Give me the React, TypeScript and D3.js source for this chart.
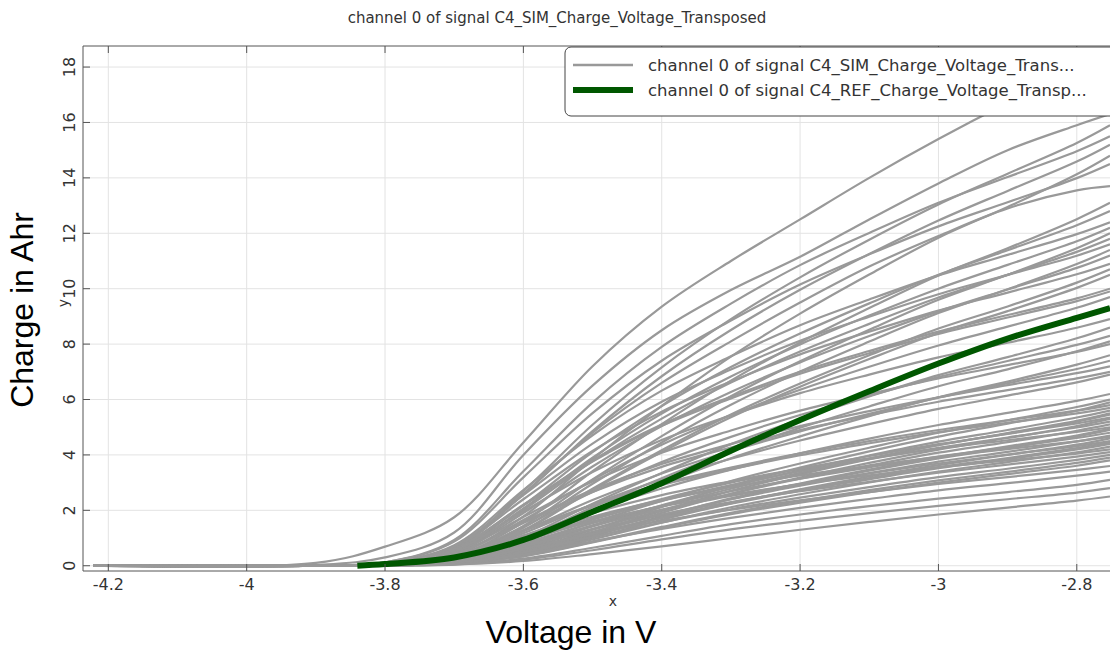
import React from "react";
import * as d3 from "d3";

// Voltage sampling points shared by every simulated discharge curve (V)
const VOLTAGE_GRID = [-4.222, -3.9, -3.8, -3.7, -3.6, -3.5, -3.4, -3.3, -3.2, -3.1, -3.0, -2.9, -2.8, -2.752];

// Simulated charge curves (Ahr) at VOLTAGE_GRID, grouped by capacity band
const SIM_TOP = [
  [0, 0.1, 0.69, 1.75, 4.45, 7.2, 9.35, 11.0, 12.5, 14.0, 15.4, 16.7, 17.9, 18.5],
  [0, 0.03, 0.3, 1.2, 4.0, 6.5, 8.5, 9.95, 11.15, 12.5, 13.8, 15.0, 15.9, 16.3],
];
const SIM_UPPER = [
  [0, 0, 0.08, 0.64, 2.7, 5.09, 7.16, 8.9, 10.41, 11.77, 13.04, 14.15, 15.26, 15.9],
  [0, 0, 0.12, 0.93, 3.41, 5.89, 7.9, 9.46, 10.85, 12.01, 13.1, 14.03, 14.96, 15.5],
  [0, 0, 0.08, 0.61, 2.58, 4.86, 6.84, 8.51, 9.96, 11.25, 12.46, 13.53, 14.59, 15.2],
  [0, 0, 0.04, 0.37, 1.78, 3.85, 5.77, 7.55, 9.1, 10.51, 11.84, 12.95, 14.13, 14.8],
  [0, 0, 0.12, 0.87, 3.19, 5.51, 7.4, 8.85, 10.15, 11.24, 12.25, 13.12, 13.99, 14.5],
  [0, 0, 0.08, 0.6, 2.6, 4.8, 6.6, 8.1, 9.5, 10.8, 11.9, 12.9, 13.55, 13.7],
];
const SIM_MID = [
  [0, 0, 0.04, 0.33, 1.57, 3.41, 5.11, 6.68, 8.06, 9.3, 10.48, 11.46, 12.51, 13.1],
  [0, 0, 0.06, 0.51, 2.18, 4.1, 5.76, 7.17, 8.38, 9.47, 10.5, 11.39, 12.29, 12.8],
  [0, 0, 0.1, 0.74, 2.73, 4.71, 6.32, 7.56, 8.68, 9.61, 10.48, 11.22, 11.97, 12.4],
  [0, 0, 0.06, 0.49, 2.07, 3.9, 5.49, 6.83, 7.99, 9.03, 10.0, 10.86, 11.71, 12.2],
  [0, 0, 0.04, 0.3, 1.44, 3.12, 4.68, 6.12, 7.38, 8.52, 9.6, 10.5, 11.46, 12.0],
  [0, 0, 0.06, 0.47, 2.01, 3.78, 5.31, 6.61, 7.73, 8.73, 9.68, 10.5, 11.33, 11.8],
  [0, 0, 0.09, 0.7, 2.55, 4.41, 5.92, 7.08, 8.12, 8.99, 9.8, 10.5, 11.19, 11.6],
  [0, 0, 0.03, 0.29, 1.37, 2.96, 4.45, 5.81, 7.01, 8.09, 9.12, 9.98, 10.89, 11.4],
  [0, 0, 0.06, 0.45, 1.9, 3.58, 5.04, 6.27, 7.34, 8.29, 9.18, 9.97, 10.75, 11.2],
  [0, 0, 0.09, 0.65, 2.4, 4.14, 5.56, 6.65, 7.63, 8.45, 9.21, 9.86, 10.52, 10.9],
  [0, 0, 0.03, 0.27, 1.28, 2.78, 4.17, 5.46, 6.58, 7.6, 8.56, 9.36, 10.22, 10.7],
  [0, 0, 0.03, 0.26, 1.26, 2.73, 4.1, 5.36, 6.46, 7.46, 8.4, 9.19, 10.03, 10.5],
  [0, 0, 0.08, 0.6, 2.2, 3.8, 5.1, 6.1, 7.0, 7.75, 8.45, 9.05, 9.65, 10.0],
  [0, 0, 0.08, 0.59, 2.18, 3.76, 5.05, 6.04, 6.93, 7.67, 8.37, 8.96, 9.55, 9.9],
  [0, 0, 0.05, 0.39, 1.65, 3.1, 4.37, 5.43, 6.35, 7.18, 7.95, 8.63, 9.31, 9.7],
];
const SIM_MIDLOW = [
  [0, 0, 0.07, 0.53, 1.96, 3.38, 4.54, 5.43, 6.23, 6.9, 7.52, 8.05, 8.59, 8.9],
  [0, 0, 0.03, 0.22, 1.03, 2.24, 3.35, 4.39, 5.29, 6.11, 6.88, 7.53, 8.21, 8.6],
  [0, 0, 0.04, 0.33, 1.41, 2.66, 3.74, 4.65, 5.44, 6.14, 6.81, 7.39, 7.97, 8.3],
  [0, 0, 0.02, 0.2, 0.97, 2.11, 3.16, 4.13, 4.98, 5.75, 6.48, 7.09, 7.74, 8.1],
  [0, 0, 0.06, 0.48, 1.76, 3.04, 4.08, 4.88, 5.6, 6.2, 6.76, 7.24, 7.72, 8.0],
  [0, 0, 0.02, 0.19, 0.91, 1.98, 2.96, 3.88, 4.67, 5.4, 6.08, 6.65, 7.26, 7.6],
  [0, 0, 0.04, 0.3, 1.26, 2.37, 3.33, 4.14, 4.85, 5.48, 6.07, 6.59, 7.1, 7.4],
  [0, 0, 0.06, 0.43, 1.58, 2.74, 3.67, 4.39, 5.04, 5.58, 6.08, 6.52, 6.95, 7.2],
  [0, 0, 0.06, 0.42, 1.54, 2.66, 3.57, 4.27, 4.9, 5.43, 5.92, 6.34, 6.76, 7.0],
  [0, 0, 0.03, 0.28, 1.17, 2.21, 3.11, 3.86, 4.52, 5.11, 5.66, 6.14, 6.62, 6.9],
];
const SIM_LOWER = [
  [0, 0, 0.03, 0.25, 1.05, 1.98, 2.79, 3.47, 4.06, 4.59, 5.08, 5.52, 5.95, 6.2],
  [0, 0, 0.02, 0.15, 0.72, 1.56, 2.34, 3.06, 3.69, 4.26, 4.8, 5.25, 5.73, 6.0],
  [0, 0, 0.01, 0.12, 0.53, 1.3, 2.12, 2.89, 3.54, 4.13, 4.66, 5.13, 5.6, 5.9],
  [0, 0, 0.05, 0.35, 1.28, 2.2, 2.96, 3.54, 4.06, 4.5, 4.9, 5.25, 5.6, 5.8],
  [0, 0, 0.05, 0.34, 1.25, 2.17, 2.91, 3.48, 3.99, 4.42, 4.82, 5.16, 5.5, 5.7],
  [0, 0, 0.02, 0.14, 0.67, 1.46, 2.18, 2.86, 3.44, 3.98, 4.48, 4.9, 5.35, 5.6],
  [0, 0, 0.01, 0.11, 0.5, 1.21, 1.98, 2.7, 3.3, 3.85, 4.35, 4.79, 5.23, 5.5],
  [0, 0, 0.02, 0.14, 0.65, 1.42, 2.13, 2.78, 3.35, 3.87, 4.36, 4.77, 5.2, 5.45],
  [0, 0, 0.03, 0.21, 0.91, 1.71, 2.41, 3.0, 3.5, 3.96, 4.39, 4.76, 5.14, 5.35],
  [0, 0, 0.01, 0.11, 0.48, 1.17, 1.91, 2.6, 3.18, 3.71, 4.19, 4.61, 5.04, 5.3],
  [0, 0, 0.03, 0.21, 0.88, 1.66, 2.34, 2.91, 3.41, 3.85, 4.26, 4.63, 4.99, 5.2],
  [0, 0, 0.02, 0.13, 0.61, 1.33, 1.99, 2.6, 3.14, 3.62, 4.08, 4.46, 4.87, 5.1],
  [0, 0, 0.04, 0.3, 1.1, 1.9, 2.55, 3.05, 3.5, 3.88, 4.23, 4.53, 4.83, 5.0],
  [0, 0, 0.01, 0.1, 0.45, 1.09, 1.78, 2.43, 2.97, 3.47, 3.91, 4.31, 4.7, 4.95],
  [0, 0, 0.01, 0.1, 0.44, 1.08, 1.76, 2.4, 2.94, 3.43, 3.87, 4.26, 4.66, 4.9],
  [0, 0, 0.02, 0.19, 0.82, 1.54, 2.16, 2.69, 3.14, 3.55, 3.94, 4.27, 4.61, 4.8],
  [0, 0, 0.01, 0.12, 0.56, 1.22, 1.83, 2.4, 2.89, 3.34, 3.76, 4.11, 4.49, 4.7],
  [0, 0, 0.04, 0.28, 1.02, 1.77, 2.37, 2.84, 3.26, 3.6, 3.93, 4.21, 4.49, 4.65],
  [0, 0, 0.01, 0.09, 0.41, 1.01, 1.66, 2.25, 2.76, 3.22, 3.63, 4.0, 4.37, 4.6],
  [0, 0, 0.02, 0.18, 0.77, 1.44, 2.03, 2.52, 2.95, 3.33, 3.69, 4.01, 4.32, 4.5],
  [0, 0, 0.01, 0.11, 0.53, 1.16, 1.74, 2.27, 2.74, 3.16, 3.56, 3.89, 4.25, 4.45],
  [0, 0, 0.01, 0.11, 0.53, 1.14, 1.72, 2.24, 2.71, 3.12, 3.52, 3.85, 4.2, 4.4],
  [0, 0, 0.01, 0.09, 0.39, 0.95, 1.55, 2.11, 2.58, 3.01, 3.4, 3.74, 4.09, 4.3],
  [0, 0, 0.03, 0.25, 0.92, 1.6, 2.14, 2.56, 2.94, 3.26, 3.55, 3.8, 4.05, 4.2],
  [0, 0, 0.02, 0.16, 0.7, 1.31, 1.85, 2.3, 2.69, 3.03, 3.36, 3.65, 3.94, 4.1],
  [0, 0, 0.01, 0.1, 0.48, 1.04, 1.56, 2.04, 2.46, 2.84, 3.2, 3.5, 3.82, 4.0],
  [0, 0, 0.01, 0.08, 0.35, 0.86, 1.4, 1.91, 2.34, 2.73, 3.08, 3.39, 3.71, 3.9],
  [0, 0, 0.01, 0.08, 0.34, 0.84, 1.37, 1.86, 2.28, 2.66, 3.0, 3.31, 3.61, 3.8],
  [0, 0, 0.02, 0.14, 0.61, 1.15, 1.62, 2.02, 2.36, 2.66, 2.95, 3.2, 3.46, 3.6],
  [0, 0, 0.01, 0.09, 0.41, 0.88, 1.33, 1.73, 2.09, 2.41, 2.72, 2.98, 3.25, 3.4],
];
const SIM_BOTTOM = [
  [0, 0, 0.01, 0.06, 0.26, 0.65, 1.08, 1.5, 1.85, 2.15, 2.42, 2.66, 2.92, 3.1],
  [0, 0, 0.01, 0.05, 0.22, 0.56, 0.95, 1.31, 1.62, 1.9, 2.16, 2.4, 2.64, 2.8],
  [0, 0, 0.005, 0.04, 0.17, 0.42, 0.7, 1.0, 1.3, 1.58, 1.85, 2.1, 2.35, 2.5],
];

// Reference curve
const REF_VOLTAGE = [-3.84, -3.8, -3.7, -3.6, -3.5, -3.4, -3.3, -3.2, -3.1, -3.0, -2.9, -2.8, -2.752];
const REF_CHARGE = [0, 0.06, 0.3, 0.93, 1.95, 2.98, 4.15, 5.26, 6.3, 7.3, 8.2, 8.95, 9.3];

// Axis ticks
const X_TICKS = [-4.2, -4.0, -3.8, -3.6, -3.4, -3.2, -3.0, -2.8];
const X_TICK_LABELS = ["-4.2", "-4", "-3.8", "-3.6", "-3.4", "-3.2", "-3", "-2.8"];
const Y_TICKS = [0, 2, 4, 6, 8, 10, 12, 14, 16, 18];
const Y_TICK_LABELS = ["0", "2", "4", "6", "8", "10", "12", "14", "16", "18"];

const TITLE = "channel 0 of signal C4_SIM_Charge_Voltage_Transposed";
const LEGEND_LABELS = [
  "channel 0 of signal C4_SIM_Charge_Voltage_Trans...",
  "channel 0 of signal C4_REF_Charge_Voltage_Transp...",
];

const W = 1110;
const H = 650;
const PLOT = { left: 83, right: 1110, top: 46, bottom: 571 };
const GRAY = "#999999";
const GREEN = "#005700";
const AXIS = "#555555";
const TEXT = "#333333";
const SANS = "'DejaVu Sans', Verdana, sans-serif";
const ARIAL = "'Liberation Sans', Arial, sans-serif";

export default function App() {
  const x = d3.scaleLinear().domain([-4.2366, -2.752]).range([PLOT.left, PLOT.right]);
  const y = d3.scaleLinear().domain([-0.19, 18.76]).range([PLOT.bottom, PLOT.top]);

  const line = d3
    .line<[number, number]>()
    .x((d) => x(d[0]))
    .y((d) => y(d[1]))
    .curve(d3.curveCatmullRom.alpha(0.5));

  const simCurves = [...SIM_TOP, ...SIM_UPPER, ...SIM_MID, ...SIM_MIDLOW, ...SIM_LOWER, ...SIM_BOTTOM];
  const refPoints = REF_VOLTAGE.map((v, i) => [v, REF_CHARGE[i]] as [number, number]);

  const tickLen = 7;

  return (
    <svg
      width={W}
      height={H}
      style={{ position: "absolute", left: 0, top: 0, background: "#fff" }}
    >
      <defs>
        <clipPath id="plot-clip">
          <rect x={PLOT.left} y={PLOT.top} width={PLOT.right - PLOT.left} height={PLOT.bottom - PLOT.top} />
        </clipPath>
      </defs>

      <text x={557} y={23} textAnchor="middle" fontFamily={SANS} fontSize={15} fill={TEXT}>
        {TITLE}
      </text>

      {/* grid */}
      <g stroke="#e3e3e3" strokeWidth={1}>
        {X_TICKS.map((t) => (
          <line key={"gx" + t} x1={x(t)} x2={x(t)} y1={PLOT.top} y2={PLOT.bottom} />
        ))}
        {Y_TICKS.map((t) => (
          <line key={"gy" + t} x1={PLOT.left} x2={PLOT.right} y1={y(t)} y2={y(t)} />
        ))}
      </g>

      {/* curves */}
      <g clipPath="url(#plot-clip)" fill="none">
        {simCurves.map((vals, i) => (
          <path
            key={"s" + i}
            d={line(VOLTAGE_GRID.map((v, j) => [v, vals[j]] as [number, number])) || ""}
            stroke={GRAY}
            strokeWidth={2.2}
          />
        ))}
        <path d={line(refPoints) || ""} stroke={GREEN} strokeWidth={6} />
      </g>

      {/* frame and ticks */}
      <g stroke={AXIS} strokeWidth={1} fill="none">
        <line x1={PLOT.left} x2={PLOT.left} y1={PLOT.top} y2={PLOT.bottom} />
        <line x1={PLOT.left} x2={PLOT.right} y1={PLOT.bottom} y2={PLOT.bottom} />
        <line x1={PLOT.left} x2={PLOT.right} y1={PLOT.top} y2={PLOT.top} />
        {X_TICKS.map((t) => (
          <g key={"tx" + t}>
            <line x1={x(t)} x2={x(t)} y1={PLOT.bottom} y2={PLOT.bottom - tickLen} />
            <line x1={x(t)} x2={x(t)} y1={PLOT.top} y2={PLOT.top + tickLen} />
          </g>
        ))}
        {Y_TICKS.map((t) => (
          <line key={"ty" + t} x1={PLOT.left} x2={PLOT.left + tickLen} y1={y(t)} y2={y(t)} />
        ))}
      </g>

      {/* tick labels */}
      <g fontFamily={SANS} fontSize={16} fill={TEXT}>
        {X_TICKS.map((t, i) => (
          <text key={"lx" + t} x={x(t)} y={590} textAnchor="middle">
            {X_TICK_LABELS[i]}
          </text>
        ))}
        {Y_TICKS.map((t, i) => (
          <text
            key={"ly" + t}
            transform={`translate(${75},${y(t)}) rotate(-90)`}
            textAnchor="middle"
          >
            {Y_TICK_LABELS[i]}
          </text>
        ))}
      </g>

      {/* small axis names */}
      <text x={613} y={606} textAnchor="middle" fontFamily={SANS} fontSize={14} fill={TEXT}>
        x
      </text>
      <text
        transform={`translate(${68},${303}) rotate(-90)`}
        textAnchor="middle"
        fontFamily={SANS}
        fontSize={14}
        fill={TEXT}
      >
        y
      </text>

      {/* axis titles */}
      <text x={571} y={643} textAnchor="middle" fontFamily={ARIAL} fontSize={32} fill="#000">
        Voltage in V
      </text>
      <text
        transform={`translate(${33},${310}) rotate(-90)`}
        textAnchor="middle"
        fontFamily={ARIAL}
        fontSize={32}
        fill="#000"
      >
        Charge in Ahr
      </text>

      {/* legend */}
      <g>
        <rect x={565} y={47} width={600} height={69} rx={6} ry={6} fill="#fff" stroke="#444" strokeWidth={1} />
        <line x1={573} x2={633} y1={65} y2={65} stroke={GRAY} strokeWidth={2.5} />
        <line x1={573} x2={633} y1={90} y2={90} stroke={GREEN} strokeWidth={6} />
        <text x={648} y={71} fontFamily={SANS} fontSize={16.5} fill={TEXT}>
          {LEGEND_LABELS[0]}
        </text>
        <text x={648} y={96} fontFamily={SANS} fontSize={16.5} fill={TEXT}>
          {LEGEND_LABELS[1]}
        </text>
      </g>
    </svg>
  );
}
